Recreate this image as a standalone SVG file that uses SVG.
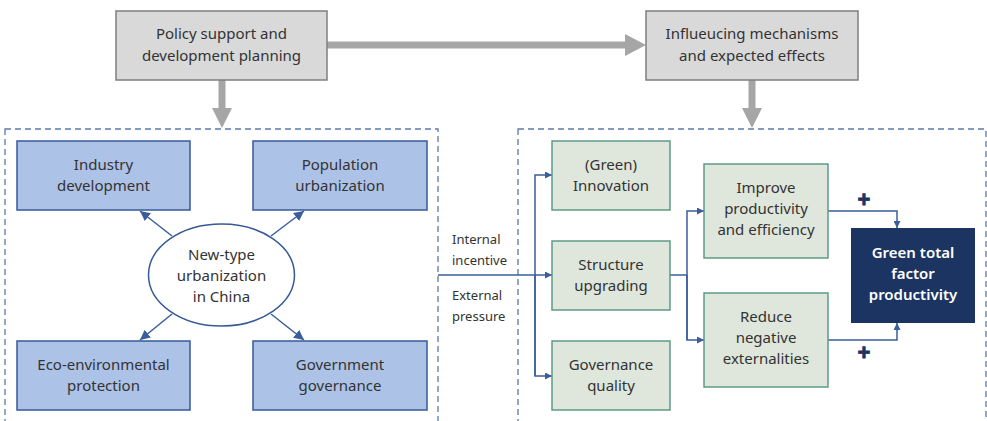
<svg xmlns="http://www.w3.org/2000/svg" width="987" height="421" viewBox="0 0 987 421">
<style>
text{font-family:"Noto Sans","Liberation Sans",sans-serif;font-size:15px;fill:#333;text-anchor:middle}
.top{fill:#d9d9d9;stroke:#7f7f7f;stroke-width:1.5}
.blue{fill:#adc2e7;stroke:#365a96;stroke-width:1.5}
.grn{fill:#dfe6dc;stroke:#5e9a86;stroke-width:1.5}
.dash{fill:none;stroke:#5d79aa;stroke-width:1.3;stroke-dasharray:6 4}
.ln{fill:none;stroke:#3a5d9c;stroke-width:1.5}
.lbl{font-size:13px;text-anchor:start}
.w{fill:#fff}
.plus{fill:#1b3461;font-family:"Liberation Sans",sans-serif;font-weight:bold;font-size:22px;stroke:#1b3461;stroke-width:0.8}
</style>
<defs>
<marker id="ah" viewBox="0 0 10 10" refX="10" refY="5" markerWidth="7" markerHeight="7" markerUnits="userSpaceOnUse" orient="auto"><path d="M0,0L10,5L0,10z" fill="#3a5d9c"/></marker>
<marker id="ah2" viewBox="0 0 10 10" refX="10" refY="5" markerWidth="10" markerHeight="10" markerUnits="userSpaceOnUse" orient="auto"><path d="M0,0L10,5L0,10z" fill="#3a5d9c"/></marker>
</defs>
<g id="containers">
<rect class="dash" x="5" y="129" width="433" height="300"/>
<rect class="dash" x="518" y="129" width="468" height="300"/>
</g>
<g id="connectors">
<path d="M327,45H626" stroke="#a6a6a6" stroke-width="7" fill="none"/>
<path d="M625,34L646,45L625,56z" fill="#a6a6a6"/>
<path d="M222,80V109" stroke="#a6a6a6" stroke-width="7" fill="none"/>
<path d="M212,108L232,108L222,128z" fill="#a6a6a6"/>
<path d="M752,80V109" stroke="#a6a6a6" stroke-width="7" fill="none"/>
<path d="M742,108L762,108L752,128z" fill="#a6a6a6"/>
<path class="ln" d="M172,236L140,211" marker-end="url(#ah2)"/>
<path class="ln" d="M271,236L304,211" marker-end="url(#ah2)"/>
<path class="ln" d="M172,314L140,340" marker-end="url(#ah2)"/>
<path class="ln" d="M271,314L304,340" marker-end="url(#ah2)"/>
<path class="ln" d="M438,275H552" marker-end="url(#ah)"/>
<path class="ln" d="M535,376V175H552" marker-end="url(#ah)"/>
<path class="ln" d="M535,275V376H552" marker-end="url(#ah)"/>
<path class="ln" d="M670,275H687"/>
<path class="ln" d="M687,340V211H704" marker-end="url(#ah)"/>
<path class="ln" d="M687,275V340H704" marker-end="url(#ah)"/>
<path class="ln" d="M828,211H897V228" marker-end="url(#ah)"/>
<path class="ln" d="M828,340H897V323" marker-end="url(#ah)"/>
<text class="lbl" x="452" y="244">Internal</text>
<text class="lbl" x="452" y="265">incentive</text>
<text class="lbl" x="452" y="300">External</text>
<text class="lbl" x="452" y="321">pressure</text>
<text class="plus" x="864" y="207">+</text>
<text class="plus" x="864" y="360">+</text>
</g>
<g id="policy"><rect class="top" x="116" y="11" width="211" height="69"/><text x="221.5" y="39">Policy support and</text><text x="221.5" y="61">development planning</text></g>
<g id="mechanisms"><rect class="top" x="646" y="11" width="212" height="69"/><text x="752" y="39">Influeucing mechanisms</text><text x="752" y="61">and expected effects</text></g>
<g id="industry"><rect class="blue" x="17" y="141" width="173" height="69"/><text x="103.5" y="170">Industry</text><text x="103.5" y="191">development</text></g>
<g id="population"><rect class="blue" x="253" y="141" width="174" height="69"/><text x="340" y="170">Population</text><text x="340" y="191">urbanization</text></g>
<g id="eco"><rect class="blue" x="17" y="341" width="173" height="69"/><text x="103.5" y="370">Eco-environmental</text><text x="103.5" y="391">protection</text></g>
<g id="government"><rect class="blue" x="253" y="341" width="174" height="69"/><text x="340" y="370">Government</text><text x="340" y="391">governance</text></g>
<g id="urbanization"><ellipse cx="221.5" cy="275" rx="73" ry="51" fill="#fff" stroke="#365a96" stroke-width="1.5"/><text x="221.5" y="260">New-type</text><text x="221.5" y="281">urbanization</text><text x="221.5" y="302">in China</text></g>
<g id="innovation"><rect class="grn" x="552" y="141" width="118" height="69"/><text x="611" y="170">(Green)</text><text x="611" y="191">Innovation</text></g>
<g id="structure"><rect class="grn" x="552" y="241" width="118" height="69"/><text x="611" y="270">Structure</text><text x="611" y="291">upgrading</text></g>
<g id="governance"><rect class="grn" x="552" y="341" width="118" height="69"/><text x="611" y="370">Governance</text><text x="611" y="391">quality</text></g>
<g id="improve"><rect class="grn" x="704" y="164" width="124" height="94"/><text x="766" y="193">Improve</text><text x="766" y="214">productivity</text><text x="766" y="235">and efficiency</text></g>
<g id="reduce"><rect class="grn" x="704" y="293" width="124" height="94"/><text x="766" y="322">Reduce</text><text x="766" y="343">negative</text><text x="766" y="364">externalities</text></g>
<g id="gtfp"><rect x="851" y="228" width="124" height="95" fill="#1b3461"/><text class="w" x="913" y="258" font-weight="600">Green total</text><text class="w" x="913" y="279" font-weight="600">factor</text><text class="w" x="913" y="300" font-weight="600">productivity</text></g>
</svg>
